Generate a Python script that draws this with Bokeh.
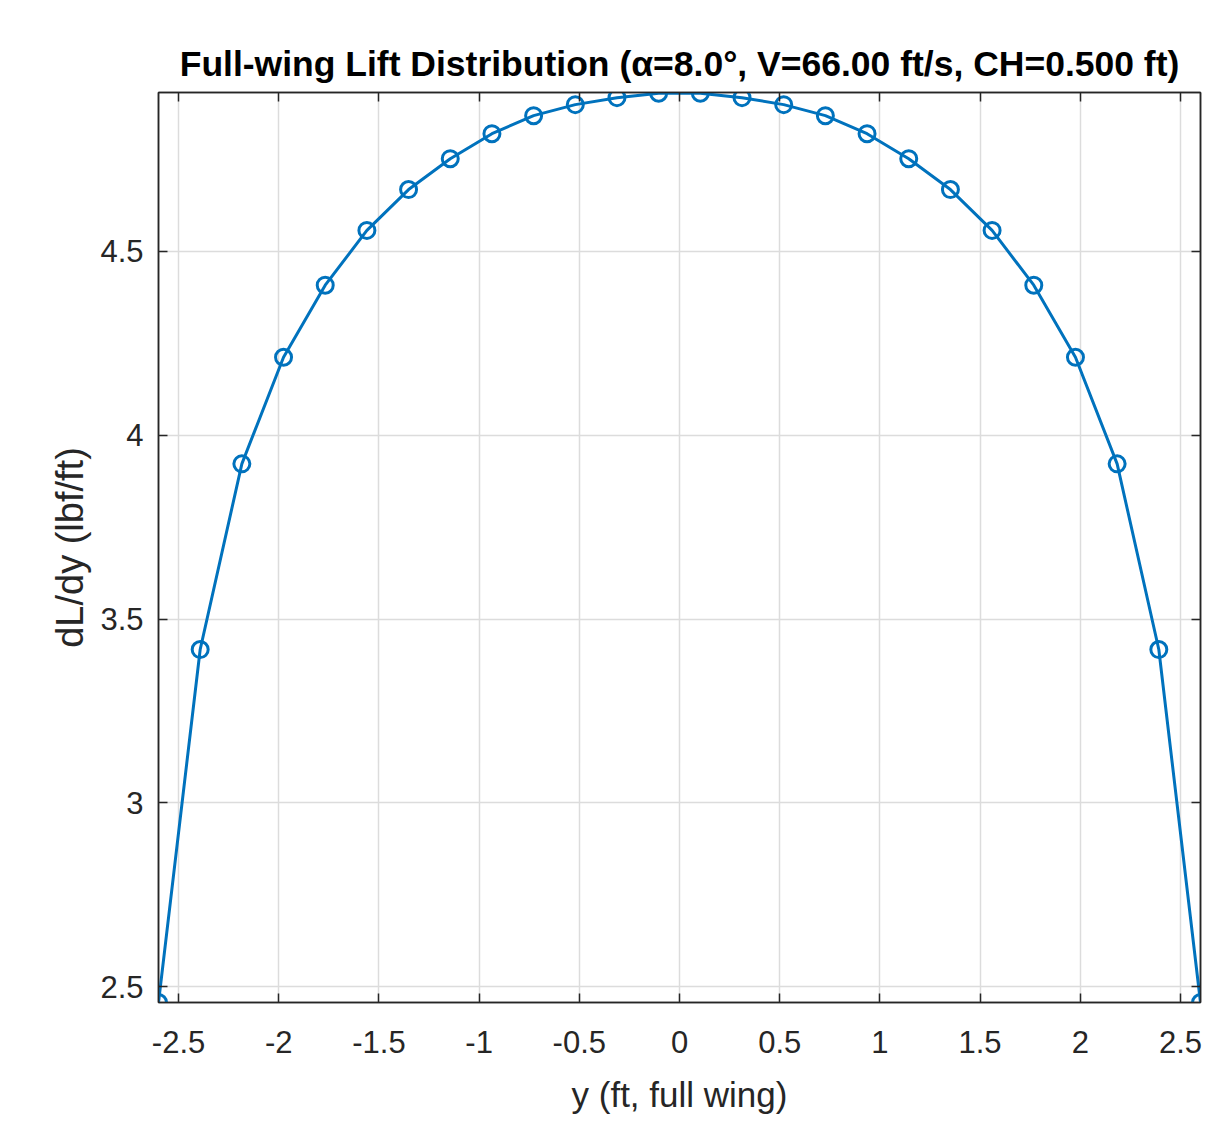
from bokeh.plotting import figure
from bokeh.models import Range1d, FixedTicker, LinearAxis
from bokeh.embed import file_html
from bokeh.resources import INLINE

# span positions (ft, full wing)
y_span = [-2.600, -2.392, -2.184, -1.976, -1.768, -1.560, -1.352, -1.144, -0.936,
          -0.728, -0.520, -0.312, -0.104, 0.104, 0.312, 0.520, 0.728, 0.936,
          1.144, 1.352, 1.560, 1.768, 1.976, 2.184, 2.392, 2.600]
# lift per unit span (lbf/ft)
dLdy = [2.457, 3.417, 3.922, 4.212, 4.408, 4.557, 4.668, 4.752, 4.820,
        4.869, 4.899, 4.918, 4.930, 4.930, 4.918, 4.899, 4.869, 4.820,
        4.752, 4.668, 4.557, 4.408, 4.212, 3.922, 3.417, 2.457]

x_ticks = [-2.5, -2.0, -1.5, -1.0, -0.5, 0.0, 0.5, 1.0, 1.5, 2.0, 2.5]
x_tick_labels = ["-2.5", "-2", "-1.5", "-1", "-0.5", "0", "0.5", "1", "1.5", "2", "2.5"]
y_ticks = [2.5, 3.0, 3.5, 4.0, 4.5]
y_tick_labels = ["2.5", "3", "3.5", "4", "4.5"]

title_text = "Full-wing Lift Distribution (\u03b1=8.0\u00b0, V=66.00 ft/s, CH=0.500 ft)"

BLUE = "#0072BD"
AX = "#262626"
FONT = "Liberation Sans"

p = figure(width=1208, height=1125, output_backend="svg", toolbar_location=None,
           x_range=Range1d(-2.6, 2.6), y_range=Range1d(2.457, 4.932),
           min_border_left=158, min_border_right=8, min_border_top=92,
           min_border_bottom=123, x_axis_location=None, y_axis_location=None)

p.title.text = title_text
p.title.align = "center"
p.title.text_font = FONT
p.title.text_font_size = "35.5px"
p.title.text_font_style = "bold"
p.title.text_color = "black"
p.title.standoff = 18

p.background_fill_color = "white"
p.border_fill_color = "white"
p.outline_line_color = AX
p.outline_line_width = 1.5


def make_axis(ticks, labels, show_labels, label_text=None, label_size="35px"):
    ax = LinearAxis(ticker=FixedTicker(ticks=ticks))
    ax.major_label_overrides = {t: l for t, l in zip(ticks, labels)}
    ax.major_tick_in = 9
    ax.major_tick_out = 0
    ax.minor_tick_in = 0
    ax.minor_tick_out = 0
    ax.axis_line_color = AX
    ax.axis_line_width = 1.5
    ax.major_tick_line_color = AX
    ax.major_tick_line_width = 1.5
    ax.major_label_text_font = FONT
    ax.major_label_text_font_size = "31px"
    ax.major_label_text_color = AX
    if not show_labels:
        ax.major_label_text_color = None
        ax.major_label_text_font_size = "1px"
        ax.major_label_standoff = 0
    if label_text:
        ax.axis_label = label_text
        ax.axis_label_text_font = FONT
        ax.axis_label_text_font_size = label_size
        ax.axis_label_text_font_style = "normal"
        ax.axis_label_text_color = AX
    return ax


xb = make_axis(x_ticks, x_tick_labels, True, "y (ft, full wing)", "35px")
xb.major_label_standoff = 28
xb.axis_label_standoff = 19
yl = make_axis(y_ticks, y_tick_labels, True, "dL/dy (lbf/ft)", "38px")
yl.major_label_standoff = 15
yl.axis_label_standoff = 6
xt = make_axis(x_ticks, x_tick_labels, False)
yr = make_axis(y_ticks, y_tick_labels, False)
p.add_layout(xb, "below")
p.add_layout(yl, "left")
p.add_layout(xt, "above")
p.add_layout(yr, "right")

p.xgrid.ticker = FixedTicker(ticks=x_ticks)
p.ygrid.ticker = FixedTicker(ticks=y_ticks)
p.grid.grid_line_color = "#dcdcdc"
p.grid.grid_line_width = 1.5

p.line(y_span, dLdy, line_color=BLUE, line_width=3)
p.scatter(y_span, dLdy, marker="circle", size=16, fill_color=None,
          line_color=BLUE, line_width=3)

open("out.html", "w").write(file_html(p, INLINE))
